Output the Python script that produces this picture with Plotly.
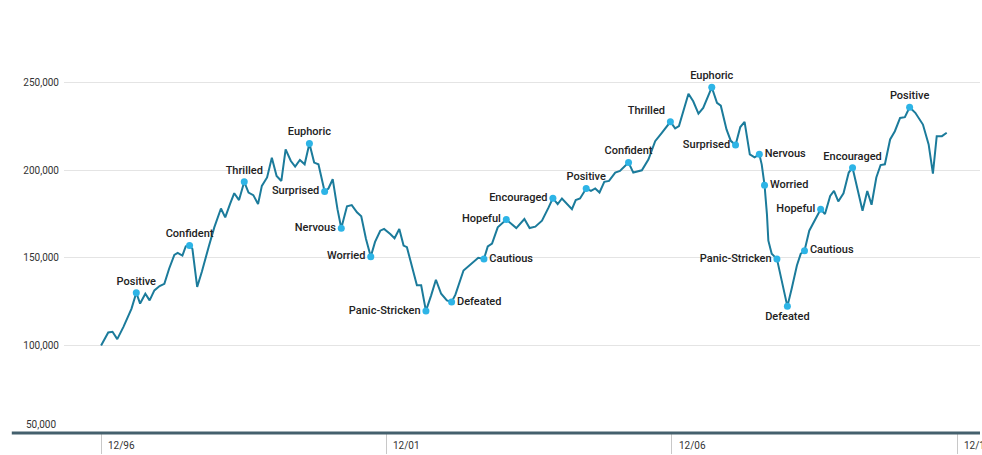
import plotly.graph_objects as go

# months since Dec 1996
months = [0.0, 1.5, 2.4, 3.4, 4.7, 6.4, 7.4, 8.2, 9.3, 10.2, 11.2, 12.3, 13.3, 14.3, 15.4, 16.1, 17.1, 17.8,
          18.6, 19.2, 20.2, 21.2, 22.6, 23.8, 25.2, 26.1, 27.1, 28.0, 29.0, 30.1, 31.0, 32.0, 33.0, 33.8,
          34.9, 35.9, 36.9, 37.9, 38.8, 39.9, 40.8, 41.8, 42.8, 43.8, 44.8, 45.7, 47.0, 47.8, 48.7, 49.7,
          50.5, 51.7, 52.7, 53.8, 54.7, 55.7, 56.7, 57.6, 58.7, 59.5, 60.8, 61.7, 62.7, 63.6, 64.3, 66.4,
          67.3, 68.3, 69.4, 70.4, 71.5, 72.7, 73.7, 74.5, 76.2, 77.7, 79.3, 80.5, 81.3, 82.2, 83.4, 85.2,
          87.3, 89.0, 90.1, 91.3, 92.7, 94.1, 95.0, 96.0, 96.9, 99.0, 99.8, 100.7, 102.0, 103.0, 103.9,
          104.8, 105.8, 106.8, 108.1, 109.1, 110.9, 111.9, 113.7, 115.1, 116.5, 117.9, 119.7, 120.7, 121.5,
          123.5, 124.5, 125.6, 126.6, 128.4, 129.5, 130.3, 131.5, 132.4, 133.4, 134.4, 135.3, 136.4, 137.4,
          138.4, 138.9, 139.5, 140.0, 140.3, 141.0, 142.1, 143.1, 144.3, 145.2, 146.3, 147.1, 147.9, 148.9,
          150.3, 151.3, 152.2, 153.3, 154.1, 155.0, 156.1, 157.2, 158.0, 158.9, 160.1, 161.1, 162.0, 163.0,
          163.9, 164.8, 165.9, 166.9, 168.0, 169.0, 170.0, 171.2, 172.8, 174.0, 174.9, 175.7, 176.8, 177.8]

values = [100000, 107400, 107800, 103600, 110600, 121000, 130100, 123900, 129500, 125700, 131400, 133900,
          135200, 143800, 151700, 152800, 151300, 156600, 157000, 155100, 133400, 142200, 156100, 167400,
          178200, 173100, 180700, 186900, 183000, 193400, 187300, 185800, 180700, 191100, 195900, 207200,
          196800, 193900, 211900, 205300, 202100, 205900, 203400, 215300, 204400, 203400, 187900, 189600,
          194900, 177800, 166900, 179400, 180100, 176000, 173700, 160800, 150700, 159100, 165500, 166500,
          163600, 161200, 166500, 157000, 156100, 134300, 134300, 119700, 128600, 137500, 129500, 125700,
          124800, 129000, 142800, 146100, 150000, 149400, 156500, 158200, 167400, 171900, 167000, 172200,
          167000, 167800, 171200, 178800, 184100, 180700, 183900, 177800, 183000, 183900, 189600, 188200,
          189600, 187300, 193400, 193900, 198700, 199600, 204400, 198700, 200000, 206300, 216600, 221400,
          227700, 223900, 225200, 243700, 239400, 232400, 235600, 247400, 238500, 236900, 223300, 216800,
          214400, 224700, 227600, 209100, 207400, 209100, 203400, 191500, 175000, 159800, 152300, 149400,
          137100, 122300, 132400, 145600, 152300, 154100, 165500, 172200, 177800, 175000, 185400, 188200,
          182200, 186900, 198700, 201500, 190200, 176900, 188200, 180300, 195900, 203000, 203400, 217600,
          222300, 229900, 230300, 236000, 232800, 226100, 214800, 198100, 219500, 219500, 221400]

stage_text = ["Positive", "Confident", "Thrilled", "Euphoric", "Surprised", "Nervous", "Worried",
              "Panic-Stricken", "Defeated", "Cautious", "Hopeful", "Encouraged",
              "Positive", "Confident", "Thrilled", "Euphoric", "Surprised", "Nervous", "Worried",
              "Panic-Stricken", "Defeated", "Cautious", "Hopeful", "Encouraged", "Positive"]
stage_month = [7.4, 18.6, 30.1, 43.8, 47.0, 50.5, 56.7, 68.3, 73.7, 80.5, 85.2, 95.0,
               102.0, 110.9, 119.7, 128.4, 133.4, 138.4, 139.5, 142.1, 144.3, 147.9, 151.3, 158.0, 170.0]
stage_pos = ["top center", "top center", "top center", "top center", "middle left", "middle left",
             "middle left", "middle left", "middle right", "middle right", "middle left", "middle left",
             "top center", "top center", "top left", "top center", "middle left", "middle right",
             "middle right", "middle left", "bottom center", "middle right", "middle left", "top center",
             "top center"]

x_tickvals = [0, 60, 120, 180]
x_ticktext = ["12/96", "12/01", "12/06", "12/11"]
y_tickvals = [100000, 150000, 200000, 250000]
y_bottom_label = "50,000"

lookup = dict(zip(months, values))
stage_value = [lookup[m] for m in stage_month]

FONT = "Roboto, 'Liberation Sans', Arial, sans-serif"

fig = go.Figure()
fig.add_trace(go.Scatter(x=months, y=values, mode="lines",
                         line=dict(color="#1b7b9b", width=2), hoverinfo="skip", showlegend=False))
fig.add_trace(go.Scatter(x=stage_month, y=stage_value, mode="markers+text",
                         text=stage_text, textposition=stage_pos,
                         textfont=dict(family=FONT, size=11, color="#222222", weight=500),
                         marker=dict(color="#2db4e6", size=7), showlegend=False))

annotations = []
for tv, tt in zip(x_tickvals, x_ticktext):
    annotations.append(dict(x=tv, xref="x", y=0, yref="paper", text=tt, showarrow=False,
                            xanchor="left", yanchor="top", xshift=5, yshift=-5,
                            font=dict(family=FONT, size=10, color="#333333")))
annotations.append(dict(x=0, xref="paper", y=50000, yref="y", text=y_bottom_label, showarrow=False,
                        xanchor="right", yanchor="middle", xshift=-6, yshift=9,
                        font=dict(family=FONT, size=10, color="#333333")))

fig.update_layout(
    width=982, height=455,
    margin=dict(l=64, r=2, t=13, b=20),
    paper_bgcolor="white", plot_bgcolor="white",
    annotations=annotations,
    shapes=[dict(type="line", xref="paper", yref="paper", x0=-0.057, x1=1.0, y0=0, y1=0,
                 line=dict(color="#44606d", width=3), layer="above")],
    xaxis=dict(range=[-7.8, 184.8], tickvals=x_tickvals, showticklabels=False,
               ticks="outside", ticklen=20, tickcolor="#c8c8c8", tickwidth=1,
               showgrid=False, zeroline=False, showline=False, fixedrange=True),
    yaxis=dict(range=[50000, 289800], tickvals=y_tickvals, tickformat=",d",
               tickfont=dict(family=FONT, size=10, color="#333333"), ticklabelstandoff=4,
               showgrid=True, gridcolor="#e4e4e4", gridwidth=1, zeroline=False,
               showline=False, ticks="", fixedrange=True),
)

fig.write_html("out.html")
